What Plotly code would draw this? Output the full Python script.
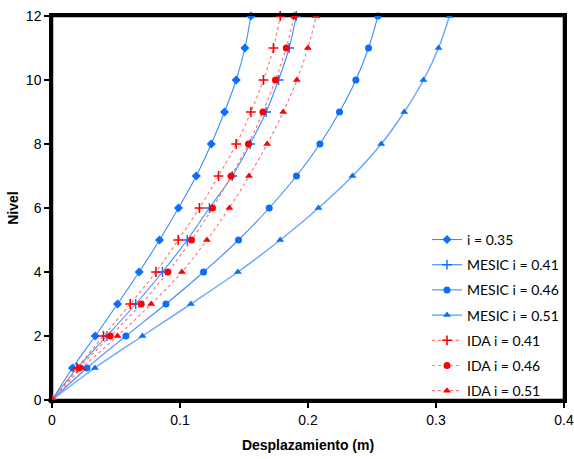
import plotly.graph_objects as go

niveles = list(range(0, 13))

i035 = [0, 0.0160, 0.0338, 0.0512, 0.0681, 0.0840, 0.0988, 0.1127, 0.1244, 0.1348, 0.1439, 0.1507, 0.1554]
mesic_041 = [0, 0.0197, 0.0429, 0.0654, 0.0863, 0.1056, 0.1230, 0.1408, 0.1548, 0.1673, 0.1770, 0.1853, 0.1908]
mesic_046 = [0, 0.0273, 0.0577, 0.0890, 0.1184, 0.1457, 0.1697, 0.1910, 0.2093, 0.2246, 0.2374, 0.2473, 0.2546]
mesic_051 = [0, 0.0335, 0.0707, 0.1085, 0.1452, 0.1783, 0.2082, 0.2348, 0.2572, 0.2752, 0.2902, 0.3020, 0.3105]
ida_041 = [0, 0.0195, 0.0402, 0.0611, 0.0812, 0.0986, 0.1152, 0.1301, 0.1439, 0.1554, 0.1652, 0.1730, 0.1783]
ida_046 = [0, 0.0213, 0.0455, 0.0697, 0.0905, 0.1090, 0.1254, 0.1400, 0.1535, 0.1648, 0.1746, 0.1830, 0.1892]
ida_051 = [0, 0.0236, 0.0512, 0.0775, 0.1015, 0.1210, 0.1386, 0.1539, 0.1681, 0.1806, 0.1913, 0.1999, 0.2064]

x_ticks = [0, 0.1, 0.2, 0.3, 0.4]
x_labels = ["0", "0.1", "0.2", "0.3", "0.4"]
y_ticks = [0, 2, 4, 6, 8, 10, 12]

BLUE = "#0A6EFF"
BLUE_LINE = "#3D8BFF"
BLUE_LIGHT = "#6FA8FF"
RED = "#FF0000"
RED_LINE = "#FF7A7A"

series = [
    ("i = 0.35", i035, dict(color=BLUE_LINE, width=1.1, dash="solid"),
     dict(symbol="diamond", size=7, color=BLUE)),
    ("MESIC i = 0.41", mesic_041, dict(color=BLUE_LINE, width=1.1, dash="solid"),
     dict(symbol="cross-thin", size=7, color=BLUE, line=dict(color=BLUE, width=1.4))),
    ("MESIC i = 0.46", mesic_046, dict(color=BLUE_LINE, width=1.1, dash="solid"),
     dict(symbol="circle", size=7, color=BLUE)),
    ("MESIC i = 0.51", mesic_051, dict(color=BLUE_LIGHT, width=1.5, dash="solid"),
     dict(symbol="triangle-up", size=7, color=BLUE)),
    ("IDA i = 0.41", ida_041, dict(color=RED_LINE, width=1.2, dash="dot"),
     dict(symbol="cross-thin", size=7, color=RED, line=dict(color=RED, width=1.6))),
    ("IDA i = 0.46", ida_046, dict(color=RED_LINE, width=1.2, dash="dot"),
     dict(symbol="circle", size=7, color=RED)),
    ("IDA i = 0.51", ida_051, dict(color=RED_LINE, width=1.2, dash="dot"),
     dict(symbol="triangle-up", size=7, color=RED)),
]

fig = go.Figure()
for k, (name, xs, line, marker) in enumerate(series):
    fig.add_trace(go.Scatter(
        x=xs, y=niveles, name=name, mode="lines+markers",
        line=dict(shape="spline", smoothing=1, **line),
        marker=marker, legendgroup=str(k), cliponaxis=False,
    ))

FONT = "Liberation Sans, Arial, sans-serif"
axis_common = dict(
    showline=True, linecolor="black", linewidth=2.5, mirror=True,
    ticks="outside", ticklen=5, tickwidth=2, tickcolor="black",
    showgrid=False, zeroline=False, automargin=False,
    ticklabeloverflow="allow",
    tickfont=dict(family=FONT, size=14, color="black"),
)

fig.update_layout(
    width=574, height=459,
    margin=dict(l=52, r=10, t=16, b=59),
    paper_bgcolor="white", plot_bgcolor="white",
    showlegend=True,
    legend=dict(
        x=1, y=-0.018, xanchor="right", yanchor="bottom",
        bgcolor="rgba(0,0,0,0)", borderwidth=0,
        font=dict(family="Lato, Open Sans, sans-serif", size=14, color="black"),
        traceorder="grouped", tracegroupgap=4,
    ),
    xaxis=dict(
        range=[0, 0.4], tickvals=x_ticks, ticktext=x_labels,
        title=dict(text="<b>Desplazamiento (m)</b>", standoff=14,
                   font=dict(family=FONT, size=14, color="black")),
        **axis_common,
    ),
    yaxis=dict(
        range=[0, 12], tickvals=y_ticks,
        title=dict(text="<b>Nivel</b>", standoff=4,
                   font=dict(family=FONT, size=14, color="black")),
        **axis_common,
    ),
)

# plot-area frame (same as the mirrored axis lines)
fig.add_shape(type="rect", xref="paper", yref="paper", x0=0, y0=0, x1=1, y1=1,
              line=dict(color="black", width=2.5), layer="below")

fig.write_html(
    "out.html",
    config={"displayModeBar": False},
    post_script="document.body.style.margin='0';document.body.style.overflow='hidden';",
)
